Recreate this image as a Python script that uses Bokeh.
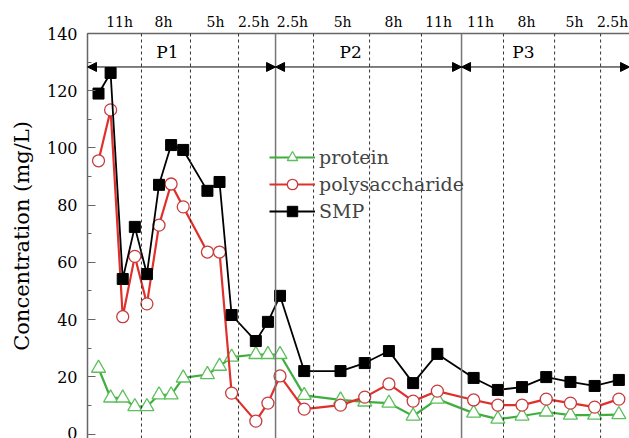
from bokeh.plotting import figure
from bokeh.models import (Span, Arrow, NormalHead, FixedTicker, CustomJSTickFormatter,
                          Legend, LegendItem, Range1d, SingleIntervalTicker)
from bokeh.core.properties import value
from bokeh.embed import file_html
from bokeh.resources import INLINE

# ---- data ----
days = [0, 1, 2, 3, 4, 5, 6, 7, 9, 10, 11, 13, 14, 15, 17, 20, 22, 24, 26, 28,
        31, 33, 35, 37, 39, 41, 43]
smp = [119, 126.2, 54.2, 72.4, 55.9, 87.1, 101, 99.3, 85, 88.1, 41.6, 32.5, 39.2,
       48.3, 22, 22, 24.8, 29, 17.8, 28, 19.6, 15.4, 16.4, 19.9, 18.2, 16.8, 18.9]
polysaccharide = [95.5, 113.3, 41, 62.1, 45.5, 73, 87.4, 79.4, 63.6, 63.6, 14.3, 4.5,
                  10.8, 20.3, 8.7, 10.1, 12.9, 17.5, 11.5, 15, 11.9, 10.1, 10.1, 12.2,
                  10.8, 9.4, 12.2]
protein = [23.0, 12.6, 12.6, 9.6, 9.6, 13.7, 13.7, 19.6, 20.8, 23.7, 26.9, 27.8, 27.8,
           27.8, 13.5, 11.9, 11.2, 10.8, 6.3, 12.2, 7.3, 5.2, 6.3, 7.7, 6.6, 6.6, 6.8]

top_label_pos = [1.74, 5.37, 9.67, 12.81, 16.03, 20.17, 24.38, 28.1, 31.57, 35.37,
                 39.34, 42.48]
top_labels = ["11h", "8h", "5h", "2.5h", "2.5h", "5h", "8h", "11h", "11h", "8h",
              "5h", "2.5h"]
dashed_x = [3.55, 7.60, 11.57, 17.77, 22.40, 26.69, 33.47, 37.69, 41.49]
phase_bounds = [-0.91, 14.63, 30.0, 43.88]
phase_names = ["P1", "P2", "P3"]
phase_label_x = [5.70, 20.83, 35.12]
arrow_y = 128.3
phase_label_y = 133.5
y_title = "Concentration (mg/L)"

FONT = "DejaVu Serif"

p = figure(width=629, height=438, x_range=Range1d(-0.91, 43.88),
           y_range=Range1d(-1.57, 140), output_backend="svg", toolbar_location=None,
           x_axis_location="above", min_border_left=87, min_border_right=0,
           min_border_top=33, min_border_bottom=0)
p.outline_line_color = None
p.grid.visible = False
p.background_fill_color = "white"

# top axis
xa = p.xaxis[0]
xa.ticker = FixedTicker(ticks=top_label_pos, minor_ticks=[])
xa.formatter = CustomJSTickFormatter(args=dict(labels=top_labels), code="return labels[index];")
xa.major_tick_in = 0
xa.major_tick_out = 0
xa.minor_tick_in = 0
xa.minor_tick_out = 0
xa.axis_line_color = "#666666"
xa.axis_line_width = 1.5
xa.major_label_text_font = FONT
xa.major_label_text_font_size = "14px"
xa.major_label_text_color = "black"
xa.major_label_standoff = 4

# left axis
ya = p.yaxis[0]
ya.ticker = SingleIntervalTicker(interval=20, num_minor_ticks=2)
ya.major_tick_in = 8
ya.major_tick_out = 0
ya.minor_tick_in = 4
ya.minor_tick_out = 0
ya.axis_line_color = "#666666"
ya.axis_line_width = 1.5
ya.major_tick_line_color = "#666666"
ya.minor_tick_line_color = "#666666"
ya.major_label_text_font = FONT
ya.major_label_text_font_size = "16px"
ya.major_label_text_color = "black"
ya.major_label_standoff = 10
ya.axis_label = y_title
ya.axis_label_text_font = FONT
ya.axis_label_text_font_size = "21px"
ya.axis_label_text_font_style = "normal"
ya.axis_label_text_color = "black"
ya.axis_label_standoff = 10

# vertical separators
for v in dashed_x:
    p.add_layout(Span(location=v, dimension="height", line_color="#333333",
                      line_width=1, line_dash="3 3"))
for v in phase_bounds[1:3]:
    p.add_layout(Span(location=v, dimension="height", line_color="#777777",
                      line_width=1.5))

# phase arrows
for i in range(3):
    p.add_layout(Arrow(x_start=phase_bounds[i], x_end=phase_bounds[i + 1],
                       y_start=arrow_y, y_end=arrow_y, line_color="black", line_width=1,
                       start=NormalHead(size=9, fill_color="black", line_color="black"),
                       end=NormalHead(size=9, fill_color="black", line_color="black")))
p.text(x=phase_label_x, y=[phase_label_y] * 3, text=phase_names, text_font=value(FONT),
       text_font_size="17px", text_align="center", text_baseline="middle", text_color="black")

# series
GREEN_L, GREEN_M = "#3fae3f", "#5cbf5c"
RED_L, RED_M = "#e0302c", "#c83c3c"

l1 = p.line(days, protein, line_color=GREEN_L, line_width=2.2)
s1 = p.scatter(days, protein, marker="triangle", size=14, fill_color="white",
               line_color=GREEN_M, line_width=1.3)
l2 = p.line(days, polysaccharide, line_color=RED_L, line_width=2.2)
s2 = p.scatter(days, polysaccharide, marker="circle", size=12, fill_color="white",
               line_color=RED_M, line_width=1.3)
l3 = p.line(days, smp, line_color="black", line_width=1.8)
s3 = p.scatter(days, smp, marker="square", size=11, fill_color="black", line_color="black")

legend = Legend(items=[LegendItem(label="protein", renderers=[l1, s1]),
                       LegendItem(label="polysaccharide", renderers=[l2, s2]),
                       LegendItem(label="SMP", renderers=[l3, s3])],
                location=(182, 214), glyph_width=46, glyph_height=26, label_height=26,
                spacing=1, padding=0, margin=0, label_standoff=4,
                background_fill_alpha=0, border_line_color=None,
                label_text_font=FONT, label_text_font_size="19px")
p.add_layout(legend)

open("out.html", "w").write(file_html(p, INLINE))
